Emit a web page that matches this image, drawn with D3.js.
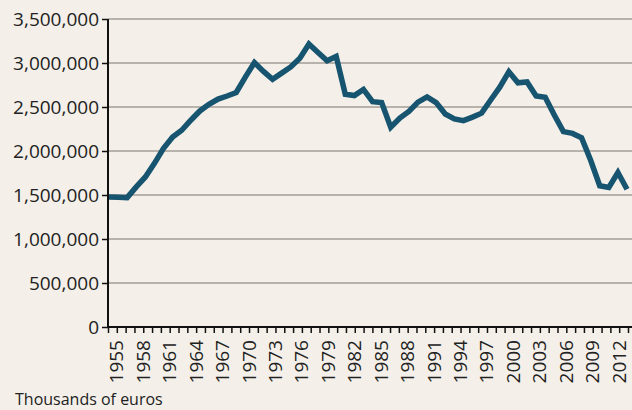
<!DOCTYPE html>
<html>
<head>
<meta charset="utf-8">
<script src="https://cdn.jsdelivr.net/npm/d3@7/dist/d3.min.js"></script>
<style>
  html, body { margin: 0; padding: 0; background: #f4f0e9; }
  svg { display: block; }
  text { font-family: "Open Sans", sans-serif; fill: #222; }
</style>
</head>
<body>
<svg id="chart" width="632" height="410"></svg>
<script>
// Annual values, thousands of euros
const years = d3.range(1955, 2013);
const values = [
  1477000, 1475000, 1470000, 1592000, 1705000, 1860000, 2030000, 2160000, 2235000, 2350000,
  2455000, 2530000, 2590000, 2625000, 2665000, 2840000, 3005000, 2905000, 2815000, 2885000,
  2955000, 3055000, 3215000, 3120000, 3025000, 3075000, 2645000, 2630000, 2700000, 2560000,
  2550000, 2270000, 2375000, 2450000, 2555000, 2615000, 2550000, 2420000, 2365000, 2345000,
  2385000, 2430000, 2580000, 2725000, 2900000, 2775000, 2785000, 2625000, 2610000, 2410000,
  2220000, 2200000, 2150000, 1895000, 1605000, 1585000, 1755000, 1565000
];
const yTicks = [0, 500000, 1000000, 1500000, 2000000, 2500000, 3000000, 3500000];
const xLabelYears = d3.range(1955, 2013, 3);
const axisLabel = "Thousands of euros";

const data = years.map((yr, i) => ({ year: yr, value: values[i] }));

const svg = d3.select("#chart");
const W = 632, H = 410;
const plotLeft = 108, plotRight = 632, plotTop = 19, plotBottom = 327;

svg.append("rect").attr("width", W).attr("height", H).attr("fill", "#f4f0e9");

const y = d3.scaleLinear().domain([0, 3500000]).range([plotBottom, plotTop]);
const xLine = d3.scaleLinear().domain([1955, 2012]).range([plotLeft + 1, 627]);
const xAxisScale = d3.scaleLinear().domain([1954, 2013]).range([plotLeft, 628]);

// horizontal gridlines
svg.append("g")
  .selectAll("line")
  .data(yTicks.filter(d => d > 0))
  .join("line")
  .attr("x1", plotLeft).attr("x2", plotRight)
  .attr("y1", d => y(d)).attr("y2", d => y(d))
  .attr("stroke", "#a39e97")
  .attr("stroke-width", 1.6);

// y axis
const yAxis = d3.axisLeft(y)
  .tickValues(yTicks)
  .tickSize(6)
  .tickPadding(3)
  .tickFormat(d3.format(","));
const gy = svg.append("g").attr("transform", `translate(${plotLeft},0)`).call(yAxis);
gy.select(".domain").attr("stroke", "#111").attr("stroke-width", 2).attr("d", `M0,${plotTop}V${plotBottom}`);
gy.selectAll(".tick line").attr("stroke", "#111").attr("stroke-width", 1.5);
gy.selectAll(".tick text")
  .style("font-family", '"Open Sans", sans-serif')
  .style("font-size", "19px")
  .attr("fill", "#2a2a2a");

// x axis: a tick for every year, labels every third year
const xAxis = d3.axisBottom(xAxisScale)
  .tickValues(d3.range(1954, 2014))
  .tickSize(6)
  .tickFormat(d => xLabelYears.includes(d) ? String(d) : "");
const gx = svg.append("g").attr("transform", `translate(0,${plotBottom})`).call(xAxis);
gx.select(".domain").attr("stroke", "#111").attr("stroke-width", 2).attr("d", `M${plotLeft},0H${plotRight}`);
gx.selectAll(".tick line").attr("stroke", "#111").attr("stroke-width", 1.5);
gx.selectAll(".tick text")
  .style("font-family", '"Open Sans", sans-serif')
  .style("font-size", "19px")
  .attr("fill", "#2a2a2a")
  .attr("text-anchor", "end")
  .attr("dy", null)
  .attr("y", 0)
  .attr("dominant-baseline", "central")
  .attr("transform", "translate(-1,13) rotate(-90)");

// the series line
const line = d3.line().x(d => xLine(d.year)).y(d => y(d.value));
svg.append("path")
  .datum(data)
  .attr("d", line)
  .attr("fill", "none")
  .attr("stroke", "#17546f")
  .attr("stroke-width", 5.5)
  .attr("stroke-linejoin", "miter");

svg.append("text")
  .attr("x", 15).attr("y", 405)
  .style("font-size", "16px")
  .attr("fill", "#2a2a2a")
  .text(axisLabel);
</script>
</body>
</html>
